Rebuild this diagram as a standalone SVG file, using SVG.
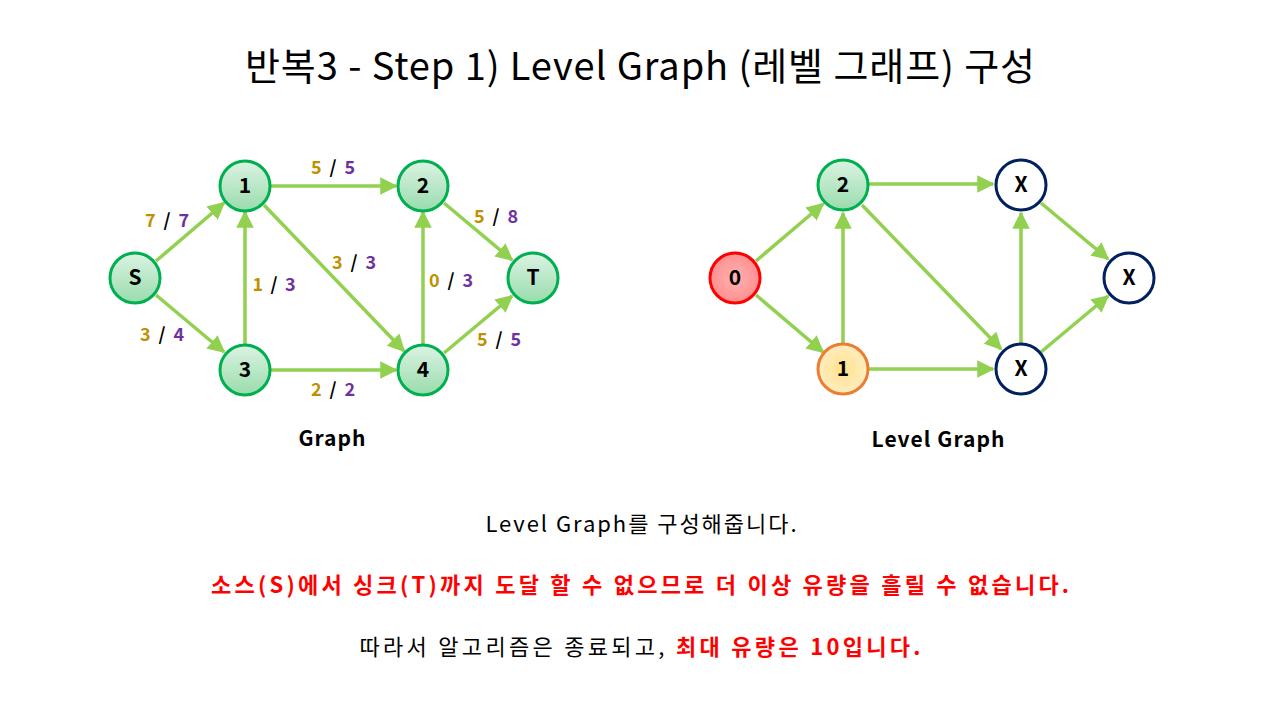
<svg xmlns="http://www.w3.org/2000/svg" width="1280" height="720" viewBox="0 0 1280 720">
<defs>
<linearGradient id="gG" x1="0" y1="0" x2="0" y2="1"><stop offset="0" stop-color="#dcf3e3"/><stop offset="1" stop-color="#98dcac"/></linearGradient>
<radialGradient id="gR" cx="0.5" cy="0.5" r="0.5"><stop offset="0" stop-color="#ffb3b3"/><stop offset="1" stop-color="#ff8f8f"/></radialGradient>
<radialGradient id="gO" cx="0.5" cy="0.5" r="0.5"><stop offset="0" stop-color="#ffe28a"/><stop offset="1" stop-color="#ffedc2"/></radialGradient>
<marker id="ah" viewBox="0 0 10 10" refX="9" refY="5" markerWidth="5" markerHeight="5" orient="auto" markerUnits="strokeWidth"><path d="M0,0 L10,5 L0,10 Z" fill="#92d050"/></marker>
</defs>
<style>
.e{stroke:#92d050;stroke-width:3.5;fill:none;marker-end:url(#ah)}
.n{stroke-width:3}
.g{fill:url(#gG);stroke:#00b050}
.r{fill:url(#gR);stroke:#ff0000}
.o{fill:url(#gO);stroke:#ed7d31}
.x{fill:#ffffff;stroke:#002060}
.nt{font-family:"Noto Sans CJK KR","Noto Sans",sans-serif;font-weight:bold;font-size:21px;fill:#000;text-anchor:middle}
.lb{font-family:"Noto Sans CJK KR","Noto Sans",sans-serif;font-weight:bold;font-size:18px;text-anchor:middle}
.a{fill:#bf9000}.b{fill:#7030a0}.k{fill:#000}
.t{font-family:"Noto Sans CJK KR","Noto Sans",sans-serif;text-anchor:middle}
.blk{fill:#000}
.red{fill:#ff0000;font-weight:bold}
</style>
<rect width="1280" height="720" fill="#ffffff"/>
<text class="t blk" x="640" y="80" font-size="38" textLength="790" lengthAdjust="spacing">반복3 - Step 1) Level Graph (레벨 그래프) 구성</text>
<g id="connectors">
<line class="e" x1="156" y1="261" x2="224" y2="203"/>
<line class="e" x1="156" y1="295" x2="224" y2="352"/>
<line class="e" x1="245" y1="344" x2="245" y2="212"/>
<line class="e" x1="271" y1="186" x2="396" y2="186"/>
<line class="e" x1="264" y1="205" x2="404" y2="351"/>
<line class="e" x1="271" y1="370" x2="396" y2="370"/>
<line class="e" x1="423" y1="344" x2="423" y2="212"/>
<line class="e" x1="444" y1="203" x2="512" y2="260"/>
<line class="e" x1="444" y1="353" x2="512" y2="296"/>
<line class="e" x1="756" y1="261" x2="823" y2="204"/>
<line class="e" x1="756" y1="295" x2="823" y2="352"/>
<line class="e" x1="843" y1="344" x2="843" y2="213"/>
<line class="e" x1="869" y1="184" x2="993" y2="184"/>
<line class="e" x1="862" y1="205" x2="1001" y2="349"/>
<line class="e" x1="869" y1="369" x2="993" y2="369"/>
<line class="e" x1="1021" y1="343" x2="1021" y2="213"/>
<line class="e" x1="1041" y1="203" x2="1108" y2="259"/>
<line class="e" x1="1041" y1="352" x2="1108" y2="296"/>
</g>
<g id="edge-labels">
<text class="lb" x="167" y="227" textLength="44" lengthAdjust="spacing"><tspan class="a">7</tspan><tspan class="k"> / </tspan><tspan class="b">7</tspan></text>
<text class="lb" x="162" y="341" textLength="44" lengthAdjust="spacing"><tspan class="a">3</tspan><tspan class="k"> / </tspan><tspan class="b">4</tspan></text>
<text class="lb" x="274" y="291" textLength="43" lengthAdjust="spacing"><tspan class="a">1</tspan><tspan class="k"> / </tspan><tspan class="b">3</tspan></text>
<text class="lb" x="333" y="174" textLength="44" lengthAdjust="spacing"><tspan class="a">5</tspan><tspan class="k"> / </tspan><tspan class="b">5</tspan></text>
<text class="lb" x="354" y="269" textLength="44" lengthAdjust="spacing"><tspan class="a">3</tspan><tspan class="k"> / </tspan><tspan class="b">3</tspan></text>
<text class="lb" x="333" y="396" textLength="44" lengthAdjust="spacing"><tspan class="a">2</tspan><tspan class="k"> / </tspan><tspan class="b">2</tspan></text>
<text class="lb" x="451" y="287" textLength="44" lengthAdjust="spacing"><tspan class="a">0</tspan><tspan class="k"> / </tspan><tspan class="b">3</tspan></text>
<text class="lb" x="496" y="223" textLength="44" lengthAdjust="spacing"><tspan class="a">5</tspan><tspan class="k"> / </tspan><tspan class="b">8</tspan></text>
<text class="lb" x="499" y="346" textLength="44" lengthAdjust="spacing"><tspan class="a">5</tspan><tspan class="k"> / </tspan><tspan class="b">5</tspan></text>
</g>
<g id="node-S"><circle class="n g" cx="135" cy="278" r="25"/><text class="nt" x="135" y="285">S</text></g>
<g id="node-1"><circle class="n g" cx="245" cy="186" r="25"/><text class="nt" x="245" y="193">1</text></g>
<g id="node-2"><circle class="n g" cx="423" cy="186" r="25"/><text class="nt" x="423" y="193">2</text></g>
<g id="node-T"><circle class="n g" cx="533" cy="278" r="25"/><text class="nt" x="533" y="285">T</text></g>
<g id="node-3"><circle class="n g" cx="245" cy="370" r="25"/><text class="nt" x="245" y="377">3</text></g>
<g id="node-4"><circle class="n g" cx="423" cy="370" r="25"/><text class="nt" x="423" y="377">4</text></g>
<g id="lnode-0"><circle class="n r" cx="735" cy="278" r="25"/><text class="nt" x="735" y="285">0</text></g>
<g id="lnode-2"><circle class="n g" cx="843" cy="185" r="25"/><text class="nt" x="843" y="192">2</text></g>
<g id="lnode-1"><circle class="n o" cx="843" cy="369" r="25"/><text class="nt" x="843" y="376">1</text></g>
<g id="lnode-x1"><circle class="n x" cx="1021" cy="185" r="25"/><text class="nt" x="1021" y="192">X</text></g>
<g id="lnode-x2"><circle class="n x" cx="1021" cy="369" r="25"/><text class="nt" x="1021" y="376">X</text></g>
<g id="lnode-x3"><circle class="n x" cx="1129" cy="278" r="25"/><text class="nt" x="1129" y="285">X</text></g>
<text class="t blk" x="332" y="446" font-size="21" font-weight="bold" textLength="67" lengthAdjust="spacing">Graph</text>
<text class="t blk" x="938" y="447" font-size="21" font-weight="bold" textLength="133" lengthAdjust="spacing">Level Graph</text>
<text class="t blk" x="641" y="532" font-size="22" textLength="311" lengthAdjust="spacing">Level Graph를 구성해줍니다.</text>
<text class="t red" x="640" y="593" font-size="22" textLength="858" lengthAdjust="spacing">소스(S)에서 싱크(T)까지 도달 할 수 없으므로 더 이상 유량을 흘릴 수 없습니다.</text>
<text class="t blk" x="640" y="655" font-size="22" textLength="561" lengthAdjust="spacing">따라서 알고리즘은 종료되고, <tspan class="red">최대 유량은 10입니다.</tspan></text>
</svg>
